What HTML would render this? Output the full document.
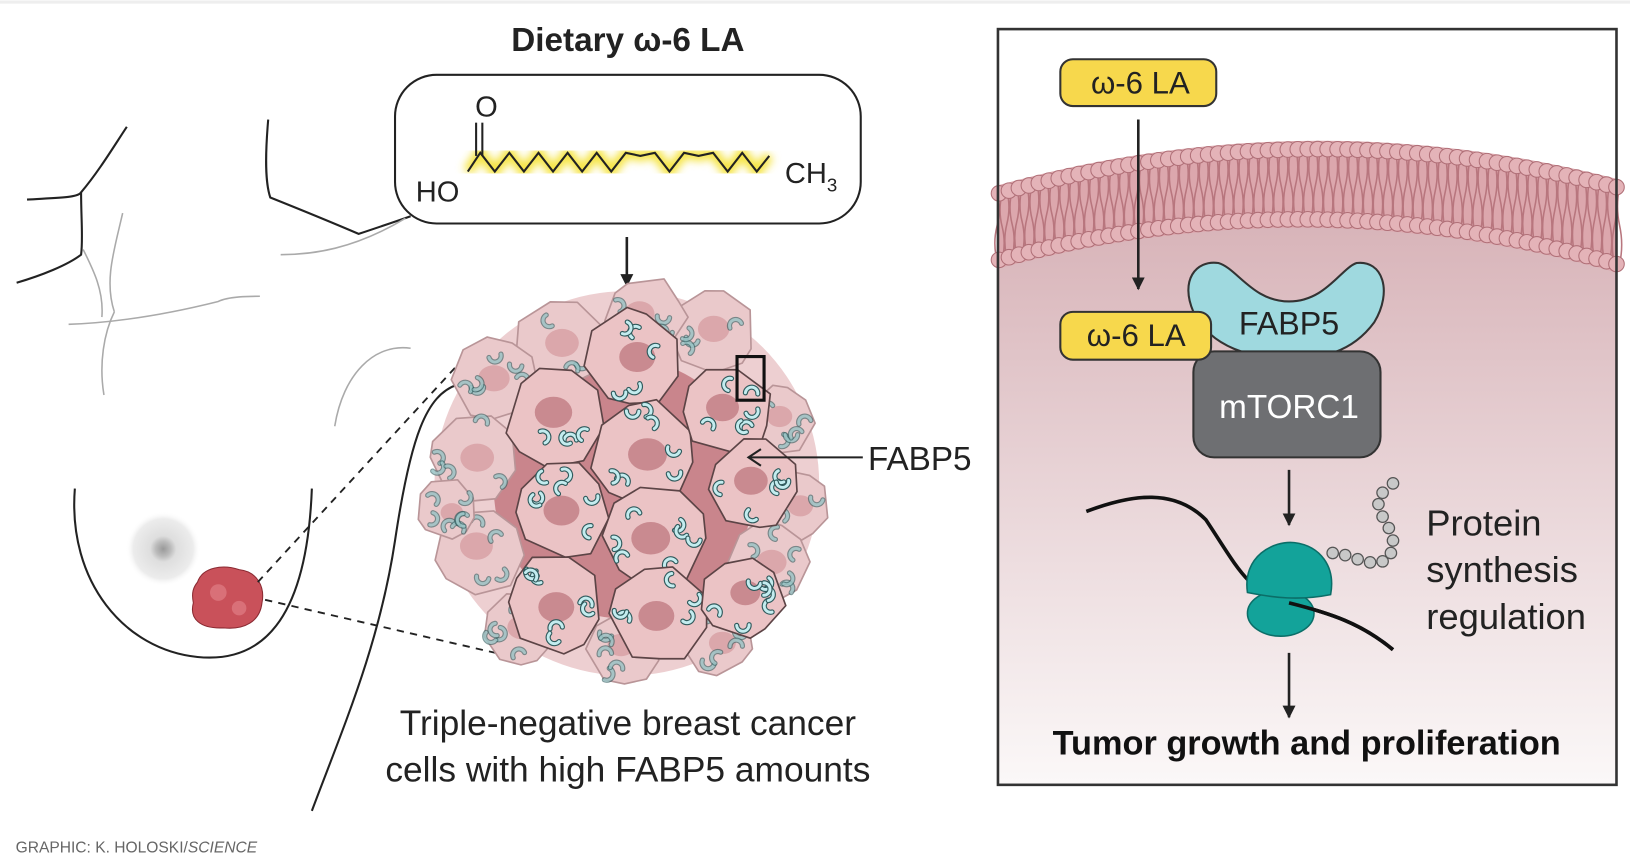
<!DOCTYPE html>
<html><head><meta charset="utf-8"><style>
html,body{margin:0;padding:0;background:#fff;width:1630px;height:868px;overflow:hidden}
svg{display:block}
text{font-family:"Liberation Sans",sans-serif}
</style></head><body>
<svg id="s" width="1630" height="868" viewBox="0 0 1568 835" preserveAspectRatio="none" xmlns="http://www.w3.org/2000/svg">
<defs>
<linearGradient id="cellbg" x1="0" y1="0" x2="0" y2="1">
<stop offset="0" stop-color="#d8b4b9"/><stop offset="0.45" stop-color="#e8d3d6"/><stop offset="1" stop-color="#fbf8f8"/></linearGradient>
<radialGradient id="nip"><stop offset="0" stop-color="#999"/><stop offset="0.2" stop-color="#bbb"/><stop offset="0.35" stop-color="#dedede"/><stop offset="0.8" stop-color="#ececec"/><stop offset="1" stop-color="#fff" stop-opacity="0"/></radialGradient>
<filter id="glow"><feGaussianBlur stdDeviation="4"/></filter>
<marker id="ah" viewBox="0 0 10 10" refX="9" refY="5" markerWidth="5" markerHeight="5" orient="auto"><path d="M0,0L10,5L0,10z" fill="#222"/></marker>
</defs>
<line x1="0" y1="2" x2="1568" y2="2" stroke="#eee" stroke-width="3"/>
<g fill="none" stroke="#222" stroke-width="2">
<path d="M26,192 C60,190 75,190 78,185 C95,165 110,140 122,122"/>
<path d="M78,185 C78,210 80,230 78,245 C65,255 40,265 16,272"/>
<path d="M258,115 C255,150 255,175 260,190 C285,200 310,210 345,225 C360,220 375,215 395,208"/>
<path d="M72,470 C65,560 120,625 190,632 C250,638 295,600 300,470" stroke-width="2"/>
<path d="M440,370 C410,380 395,420 380,520 C365,620 330,700 300,780"/>
</g>
<g fill="none" stroke="#aaa" stroke-width="1.5">
<path d="M80,240 C90,260 100,280 98,305"/>
<path d="M118,205 C110,240 100,270 110,300"/>
<path d="M66,312 C120,310 170,300 210,290 C220,285 240,285 250,285"/>
<path d="M270,245 C300,245 340,240 390,210"/>
<path d="M395,335 C360,330 330,360 322,410"/>
<path d="M110,300 C100,320 95,350 100,380"/>
</g>
<circle cx="157" cy="528" r="36" fill="url(#nip)"/>
<path d="M190,560 C195,545 215,543 230,548 C248,550 255,565 252,580 C250,598 235,606 215,604 C192,605 182,595 186,580 C184,570 186,565 190,560Z" fill="#c9515a" stroke="#8a2a32" stroke-width="1"/>
<circle cx="210" cy="570" r="8" fill="#d97078"/><circle cx="230" cy="585" r="7" fill="#d97078"/>
<g stroke="#222" stroke-width="1.8" stroke-dasharray="7,6" fill="none">
<line x1="248" y1="560" x2="455" y2="335"/><line x1="255" y1="577" x2="485" y2="630"/>
</g>
<text x="604" y="49" font-size="32" font-weight="bold" text-anchor="middle" fill="#222">Dietary ω-6 LA</text>
<rect x="380" y="72" width="448" height="143" rx="40" fill="#fff" stroke="#222" stroke-width="2"/>
<polyline points="450,165 462,147 476,165 490,147 504,165 518,147 532,165 546,147 560,165 574,147 588,165 602,147 616,150 630,147 644,165 658,147 672,150 686,147 700,165 714,147 728,165 740,150" fill="none" stroke="#f5e33a" stroke-width="10" filter="url(#glow)"/>
<polyline points="450,165 462,147 476,165 490,147 504,165 518,147 532,165 546,147 560,165 574,147 588,165 602,147 616,150 630,147 644,165 658,147 672,150 686,147 700,165 714,147 728,165 740,150" fill="none" stroke="#222" stroke-width="2"/>
<line x1="458" y1="118" x2="458" y2="150" stroke="#222" stroke-width="2"/><line x1="464" y1="118" x2="464" y2="150" stroke="#222" stroke-width="2"/>
<text x="468" y="112" font-size="28" text-anchor="middle" fill="#222">O</text>
<text x="400" y="194" font-size="28" fill="#222">HO</text>
<text x="755" y="176" font-size="28" fill="#222">CH<tspan font-size="18" dy="8">3</tspan></text>
<line x1="603" y1="228" x2="603" y2="275" stroke="#222" stroke-width="2.5" marker-end="url(#ah)"/>
<g id="cluster"></g>
<rect x="709" y="343" width="26" height="42" fill="none" stroke="#111" stroke-width="3"/>
<line x1="830" y1="440" x2="720" y2="440" stroke="#222" stroke-width="2"/>
<polyline points="732,432 720,440 732,448" fill="none" stroke="#222" stroke-width="2"/>
<text x="835" y="452" font-size="32" fill="#222">FABP5</text>
<text x="604" y="707" font-size="34" text-anchor="middle" fill="#222">Triple-negative breast cancer</text>
<text x="604" y="752" font-size="34" text-anchor="middle" fill="#222">cells with high FABP5 amounts</text>
<text x="15" y="820" font-size="15" fill="#666">GRAPHIC: K. HOLOSKI/<tspan font-style="italic">SCIENCE</tspan></text>
<path d="M961,255 Q1258,175 1555,260 L1555,755 L961,755Z" fill="url(#cellbg)"/>
<g id="mem"></g>
<rect x="960" y="28" width="595" height="727" fill="none" stroke="#333" stroke-width="2.5"/>
<line x1="1095" y1="115" x2="1095" y2="278" stroke="#222" stroke-width="2.5" marker-end="url(#ah)"/>
<rect x="1020" y="57" width="150" height="45" rx="12" fill="#f7d84c" stroke="#333" stroke-width="2"/>
<text x="1097" y="90" font-size="30" text-anchor="middle" fill="#222">ω-6 LA</text>
<path d="M1148,300 C1135,270 1150,250 1172,253 C1190,258 1205,290 1240,290 C1275,290 1290,258 1305,253 C1330,250 1340,280 1322,310 C1300,340 1270,345 1240,345 C1205,345 1165,335 1148,300Z" fill="#9fd9df" stroke="#333" stroke-width="2"/>
<rect x="1148" y="338" width="180" height="102" rx="20" fill="#6e6f72" stroke="#333" stroke-width="2"/>
<text x="1240" y="322" font-size="31" text-anchor="middle" fill="#222">FABP5</text>
<text x="1240" y="402" font-size="32" text-anchor="middle" fill="#fff">mTORC1</text>
<rect x="1020" y="300" width="145" height="46" rx="12" fill="#f7d84c" stroke="#333" stroke-width="2"/>
<text x="1093" y="333" font-size="30" text-anchor="middle" fill="#222">ω-6 LA</text>
<line x1="1240" y1="452" x2="1240" y2="505" stroke="#222" stroke-width="2.5" marker-end="url(#ah)"/>
<path d="M1045,492 C1090,475 1130,470 1160,500 C1190,545 1200,570 1240,580 C1280,590 1310,600 1340,625" fill="none" stroke="#111" stroke-width="3.5"/>
<ellipse cx="1232" cy="590" rx="32" ry="22" fill="#13a39a" stroke="#0b6e68" stroke-width="1.5"/>
<path d="M1200,570 C1195,535 1225,520 1245,522 C1270,525 1285,545 1280,572 C1250,578 1225,575 1200,570Z" fill="#13a39a" stroke="#0b6e68" stroke-width="1.5"/>
<path d="M1240,580 C1280,590 1310,600 1340,625" fill="none" stroke="#111" stroke-width="3.5"/>
<g id="beads" fill="#c8c8c8" stroke="#555" stroke-width="1.2"></g>
<text x="1372" y="515" font-size="35" fill="#222">Protein</text>
<text x="1372" y="560" font-size="35" fill="#222">synthesis</text>
<text x="1372" y="605" font-size="35" fill="#222">regulation</text>
<line x1="1240" y1="628" x2="1240" y2="690" stroke="#222" stroke-width="2.5" marker-end="url(#ah)"/>
<text x="1257" y="726" font-size="33" font-weight="bold" text-anchor="middle" fill="#111">Tumor growth and proliferation</text>
</svg>
<script>
var NS="http://www.w3.org/2000/svg";
function el(p,t,a){var e=document.createElementNS(NS,t);for(var k in a)e.setAttribute(k,a[k]);p.appendChild(e);return e;}
var seed=7;function r(){seed=(seed*9301+49297)%233280;return seed/233280;}
var cl=document.getElementById("cluster");
el(cl,"circle",{cx:603,cy:465,r:185,fill:"#edcfd1"});
el(cl,"circle",{cx:600,cy:470,r:125,fill:"#c9858c"});
var outer=[[540,330,45],[685,320,42],[478,365,42],[750,405,34],[455,440,45],[765,485,34],[460,530,44],[740,540,40],[600,625,36],[690,615,36],[500,605,38],[430,490,30],[620,305,40]];
var inner=[[610,345,48],[535,400,50],[620,435,52],[700,395,44],[540,492,48],[630,515,52],[725,465,45],[535,580,48],[635,590,48],[715,575,40]];
function cell(c,fill,stroke,nf,alpha){
 var pts=[];for(var i=0;i<9;i++){var a=i/9*Math.PI*2+r()*0.4,rr=c[2]*(0.9+r()*0.15);pts.push((c[0]+Math.cos(a)*rr).toFixed(1)+","+(c[1]+Math.sin(a)*rr).toFixed(1));}
 el(cl,"polygon",{points:pts.join(" "),fill:fill,stroke:stroke,"stroke-width":1.6,"stroke-linejoin":"round"});
 el(cl,"ellipse",{cx:c[0]+(r()-0.5)*10,cy:c[1]+(r()-0.5)*10,rx:c[2]*0.36,ry:c[2]*0.3,fill:nf});
 var n=4+Math.floor(r()*4);
 for(var j=0;j<n;j++){var a=r()*6.28,d=c[2]*(0.45+r()*0.35),x=c[0]+Math.cos(a)*d,y=c[1]+Math.sin(a)*d,o=r()*6.28;
  var x1=x+Math.cos(o)*6,y1=y+Math.sin(o)*6,x2=x-Math.cos(o)*6,y2=y-Math.sin(o)*6;
  el(cl,"path",{d:"M"+x1+","+y1+" A6,6 0 0 1 "+x2+","+y2,fill:"none",stroke:"#2f5a5c","stroke-width":5,"stroke-linecap":"round","opacity":alpha});
  el(cl,"path",{d:"M"+x1+","+y1+" A6,6 0 0 1 "+x2+","+y2,fill:"none",stroke:"#c3ecef","stroke-width":2.8,"stroke-linecap":"round","opacity":alpha});}
}
outer.forEach(function(c){cell(c,"#eac9cb","#b99598","#dba7ab",0.6);});
inner.forEach(function(c){cell(c,"#ebc3c5","#5c4446","#c98a90",1);});
var m=document.getElementById("mem");
function q(t,a,b,c){return (1-t)*(1-t)*a+2*(1-t)*t*b+t*t*c;}
el(m,"path",{d:"M961,178 Q1258,96 1555,172 L1555,262 Q1258,178 961,258Z",fill:"#dca7ad"});
var N=62;
for(var i=0;i<=N;i++){var t=i/N;
 var x=q(t,961,1258,1555),y1=q(t,178,96,172)+8,y2=q(t,258,178,262)-8;
 el(m,"path",{d:"M"+(x-2)+","+y1+" q4,"+((y2-y1)/4)+" 0,"+((y2-y1)/2)+" t0,"+((y2-y1)/2),fill:"none",stroke:"#b8767e","stroke-width":1.5});
 el(m,"path",{d:"M"+(x+3)+","+y1+" q-4,"+((y2-y1)/4)+" 0,"+((y2-y1)/2)+" t0,"+((y2-y1)/2),fill:"none",stroke:"#b8767e","stroke-width":1.5});}
for(var i=0;i<=N;i++){var t=i/N;
 var x=q(t,961,1258,1555),y1=q(t,178,96,172)+8,y2=q(t,258,178,262)-8;
 el(m,"circle",{cx:x,cy:y1,r:7.5,fill:"#e4b3b8",stroke:"#b07078","stroke-width":1});
 el(m,"circle",{cx:x,cy:y2,r:7.5,fill:"#e4b3b8",stroke:"#b07078","stroke-width":1});}
var b=document.getElementById("beads");
var bp=[[1282,532],[1294,534],[1306,538],[1318,541],[1330,540],[1338,532],[1340,520],[1336,508],[1330,497],[1326,485],[1330,474],[1340,465]];
bp.forEach(function(p){el(b,"circle",{cx:p[0],cy:p[1],r:5.5});});
</script>
</body></html>
